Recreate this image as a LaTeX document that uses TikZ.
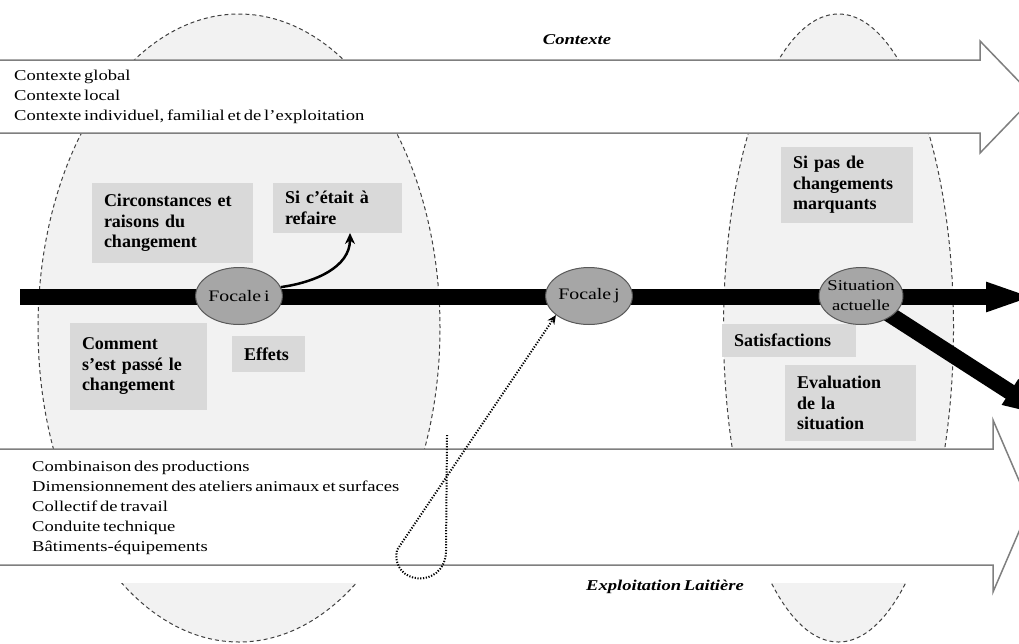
\documentclass[tikz,border=0pt]{standalone}
\usepackage{fontspec}
\setmainfont{Liberation Serif}
\newfontfamily\widefont[FakeStretch=1.24,WordSpace=0.6]{Liberation Serif}
\usetikzlibrary{arrows.meta,shapes.geometric}
\definecolor{bgell}{HTML}{F2F2F2}
\definecolor{dashgrey}{HTML}{404040}
\definecolor{bandgrey}{HTML}{7F7F7F}
\definecolor{boxgrey}{HTML}{D9D9D9}
\definecolor{focgrey}{HTML}{A6A6A6}
\definecolor{focborder}{HTML}{595959}
\pgfdeclarelayer{back}
\pgfdeclarelayer{mid}
\pgfsetlayers{back,mid,main}
\begin{document}
\begin{tikzpicture}[x=1pt,y=-1pt,
 bigell/.style={fill=bgell, draw=dashgrey, line width=1pt, dash pattern=on 4pt off 3pt},
 band/.style={fill=white, draw=bandgrey, line width=1.5pt, line join=miter},
 box/.style={fill=boxgrey, inner xsep=12pt, inner ysep=0pt, align=left, font=\fontsize{18}{20.5}\selectfont\bfseries},
 focal/.style={ellipse, fill=focgrey, draw=focborder, line width=1pt, inner sep=0pt, minimum width=85pt, minimum height=57pt, font=\widefont\fontsize{16}{19}\selectfont},
 timeline/.style={line width=16pt, -{Triangle[length=50pt,width=26pt]}},
 curvearr/.style={line width=2.5pt, -{Stealth[length=11pt,width=10pt]}},
 dotarr/.style={line width=2pt, dash pattern=on 1.2pt off 1.6pt, -{Stealth[length=9pt,width=8pt]}},
 bandtext/.style={align=left, anchor=west, inner sep=0pt, font=\widefont\fontsize{15}{20}\selectfont},
 bandtitle/.style={inner sep=0pt, font=\widefont\fontsize{15}{18}\selectfont\bfseries\itshape}
]
\useasboundingbox (0,0) rectangle (1019,643);

% background ellipses and bands
\begin{pgfonlayer}{back}
\fill[white] (0,0) rectangle (1019,643);
\draw[bigell] (239,328) ellipse [x radius=201pt, y radius=314pt];
\draw[bigell] (838.5,328) ellipse [x radius=115pt, y radius=314pt];
\fill[white] (-5,566) rectangle (1030,583);
\draw[band] (-5,60) -- (980,60) -- (980,41) -- (1034,97) -- (980,153) -- (980,133) -- (-5,133) -- cycle;
\draw[band] (-5,449) -- (993,449) -- (993,420) -- (1030,506) -- (993,592) -- (993,565) -- (-5,565) -- cycle;
\end{pgfonlayer}

% band texts
\node[bandtitle] (ctxtitle) at (577,40) {Contexte};
\node[bandtext] (ctxlist) at (14,97) {Contexte global\\Contexte local\\Contexte individuel, familial et de l’exploitation};
\node[bandtext] (exlist) at (32,508) {Combinaison des productions\\Dimensionnement des ateliers animaux et surfaces\\Collectif de travail\\Conduite technique\\Bâtiments-équipements};
\node[bandtitle] (extitle) at (665,587) {Exploitation Laitière};

% grey boxes
\node[box, text width=137pt, minimum height=80pt] (circ) at (172.5,223) {Circonstances et\\raisons du\\changement};
\node[box, text width=105pt, minimum height=50pt] (refaire) at (337.5,208) {Si c’était à\\refaire};
\node[box, text width=113pt, minimum height=87pt] (comment) at (138.5,366.5) {Comment\\s’est passé le\\changement};
\node[box, text width=49pt, minimum height=36pt] (effets) at (268.5,354) {Effets};
\node[box, text width=108pt, minimum height=76pt] (sipas) at (847,185) {Si pas de\\changements\\marquants};
\node[box, text width=110pt, minimum height=33pt] (satisf) at (789,340.5) {Satisfactions};
\node[box, text width=107pt, minimum height=76pt] (eval) at (850.5,403) {Evaluation\\de la\\situation};

% focal ellipses
\node[focal] (fi) at (239,296) {Focale i};
\node[focal, minimum width=83pt] (fj) at (589,296) {Focale j};
\node[focal, minimum width=84pt, inner xsep=-12pt, inner ysep=-6pt, font=\widefont\fontsize{15}{20}\selectfont, align=center] (sa) at (861,296) {Situation\\actuelle};

% timeline
\coordinate (tl0) at (20,297);
\coordinate (tl1) at (1036,297);
\coordinate (dend) at (1052,419);
\begin{pgfonlayer}{mid}
\draw[timeline] (tl0) -- (tl1);
\draw[timeline] (sa.center) -- (dend);
\end{pgfonlayer}

% curved arrow
\coordinate (rtip) at (350,233);
\draw[curvearr] (fi.12) to[out=8,in=-90] (rtip);

% dotted loop arrow
\coordinate (lp) at (447,435);
\draw[dotarr] (lp) -- (446,552) .. controls (444,590) and (390,585) .. (397,550) -- (fj.210);
\end{tikzpicture}
\end{document}
